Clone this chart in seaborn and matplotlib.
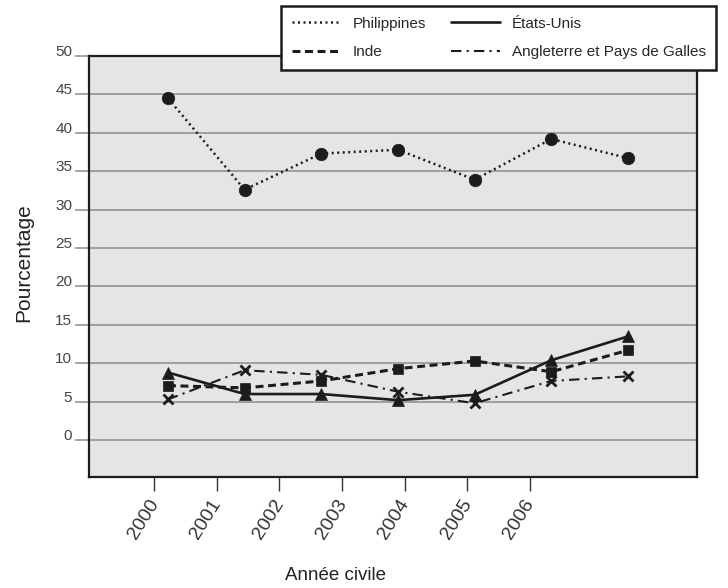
import matplotlib
matplotlib.use("Agg")
import matplotlib.pyplot as plt
from matplotlib.lines import Line2D
from matplotlib.transforms import ScaledTranslation
import seaborn as sns
import pandas as pd

# --- Data ---

years = [2000, 2001, 2002, 2003, 2004, 2005, 2006]
philippines = [44.5, 32.6, 37.3, 37.8, 33.9, 39.2, 36.7]
etats_unis = [8.8, 6.0, 6.0, 5.2, 5.9, 10.4, 13.5]
inde = [7.1, 6.8, 7.7, 9.3, 10.3, 8.9, 11.7]
angleterre = [5.3, 9.1, 8.5, 6.3, 4.8, 7.7, 8.3]

series_names = ["Philippines", "Inde", "États-Unis", "Angleterre et Pays de Galles"]
series_values = [philippines, inde, etats_unis, angleterre]
y_ticks = [0, 5, 10, 15, 20, 25, 30, 35, 40, 45, 50]
x_tick_labels = ["2000", "2001", "2002", "2003", "2004", "2005", "2006"]

# --- Styles ---

sns.set_style("white")
plt.rcParams["font.family"] = ["Liberation Sans", "DejaVu Sans"]

ink = "#1c1c1c"
styles = {
    "Philippines": dict(ls=(0, (0.8, 1.4)), lw=1.8, marker="o", ms=9),
    "Inde": dict(ls=(0, (2.6, 1.5)), lw=2.2, marker="s", ms=7.5),
    "États-Unis": dict(ls="-", lw=1.9, marker="^", ms=9),
    "Angleterre et Pays de Galles": dict(ls=(0, (5, 2.5, 1, 2.5)), lw=1.5, marker="x", ms=7.5),
}

fig = plt.figure(figsize=(7.28, 5.88), dpi=100)
ax = fig.add_axes([89 / 728, 1 - 477 / 588, 608 / 728, 421 / 588])
ax.set_facecolor("#e4e5e7")

for name, vals in zip(series_names, series_values):
    st = styles[name]
    df = pd.DataFrame({"year": years, "value": vals})
    sns.lineplot(data=df, x="year", y="value", ax=ax, color=ink,
                 linestyle=st["ls"], linewidth=st["lw"], marker=st["marker"],
                 markersize=st["ms"], markeredgewidth=2 if st["marker"] == "x" else 0.5,
                 markeredgecolor=ink, zorder=3)

# axes limits & grid
ax.set_xlim(1998.97, 2006.90)
ax.set_ylim(-4.8, 50)
ax.set_yticks(y_ticks)
ax.set_yticklabels([str(v) for v in y_ticks])
ax.grid(axis="y", color="#8c8c8c", linewidth=1.1, zorder=1)
ax.grid(axis="x", visible=False)
ax.set_axisbelow(True)

# x ticks sit offset from the data points in the reference
tick_pos = [1999.82 + i * 0.8167 for i in range(len(x_tick_labels))]
ax.set_xticks(tick_pos)
ax.set_xticklabels(x_tick_labels)

for side in ["left", "right", "top", "bottom"]:
    ax.spines[side].set_color(ink)
    ax.spines[side].set_linewidth(1.6)

ax.tick_params(axis="y", left=True, length=10, width=1.1, color="#8c8c8c",
               pad=2, labelsize=11, labelcolor="#444444")
ax.tick_params(axis="x", bottom=True, length=10, width=1.0, color="#333333",
               pad=4, labelsize=14, labelcolor="#333333")

for lab in ax.get_yticklabels():
    lab.set_verticalalignment("baseline")
for lab in ax.get_xticklabels():
    lab.set_rotation(58)
    lab.set_horizontalalignment("right")
    lab.set_verticalalignment("top")
    lab.set_transform(lab.get_transform() + ScaledTranslation(8 / 100, 0, fig.dpi_scale_trans))

ax.set_xlabel("Année civile", fontsize=13.5, color="#222222")
ax.set_ylabel("Pourcentage", fontsize=15, color="#222222")
ax.xaxis.set_label_coords(0.405, -0.214)
ax.yaxis.set_label_coords(-0.092, 0.51)

# --- Legend ---

handles = [Line2D([], [], color=ink, linestyle=styles[n]["ls"], linewidth=styles[n]["lw"])
           for n in series_names]
leg = fig.legend(handles, series_names, loc="upper left",
                 bbox_to_anchor=(281 / 728, 1 - 6 / 588), ncol=2, fontsize=11,
                 frameon=True, fancybox=False, handlelength=3.2, handletextpad=0.8,
                 columnspacing=1.6, labelspacing=0.95, borderpad=0.7, borderaxespad=0)
leg.get_frame().set_edgecolor(ink)
leg.get_frame().set_linewidth(1.8)
leg.get_frame().set_facecolor("white")
leg.get_frame().set_alpha(1)

fig.savefig("out.png", dpi=100)
plt.close(fig)
